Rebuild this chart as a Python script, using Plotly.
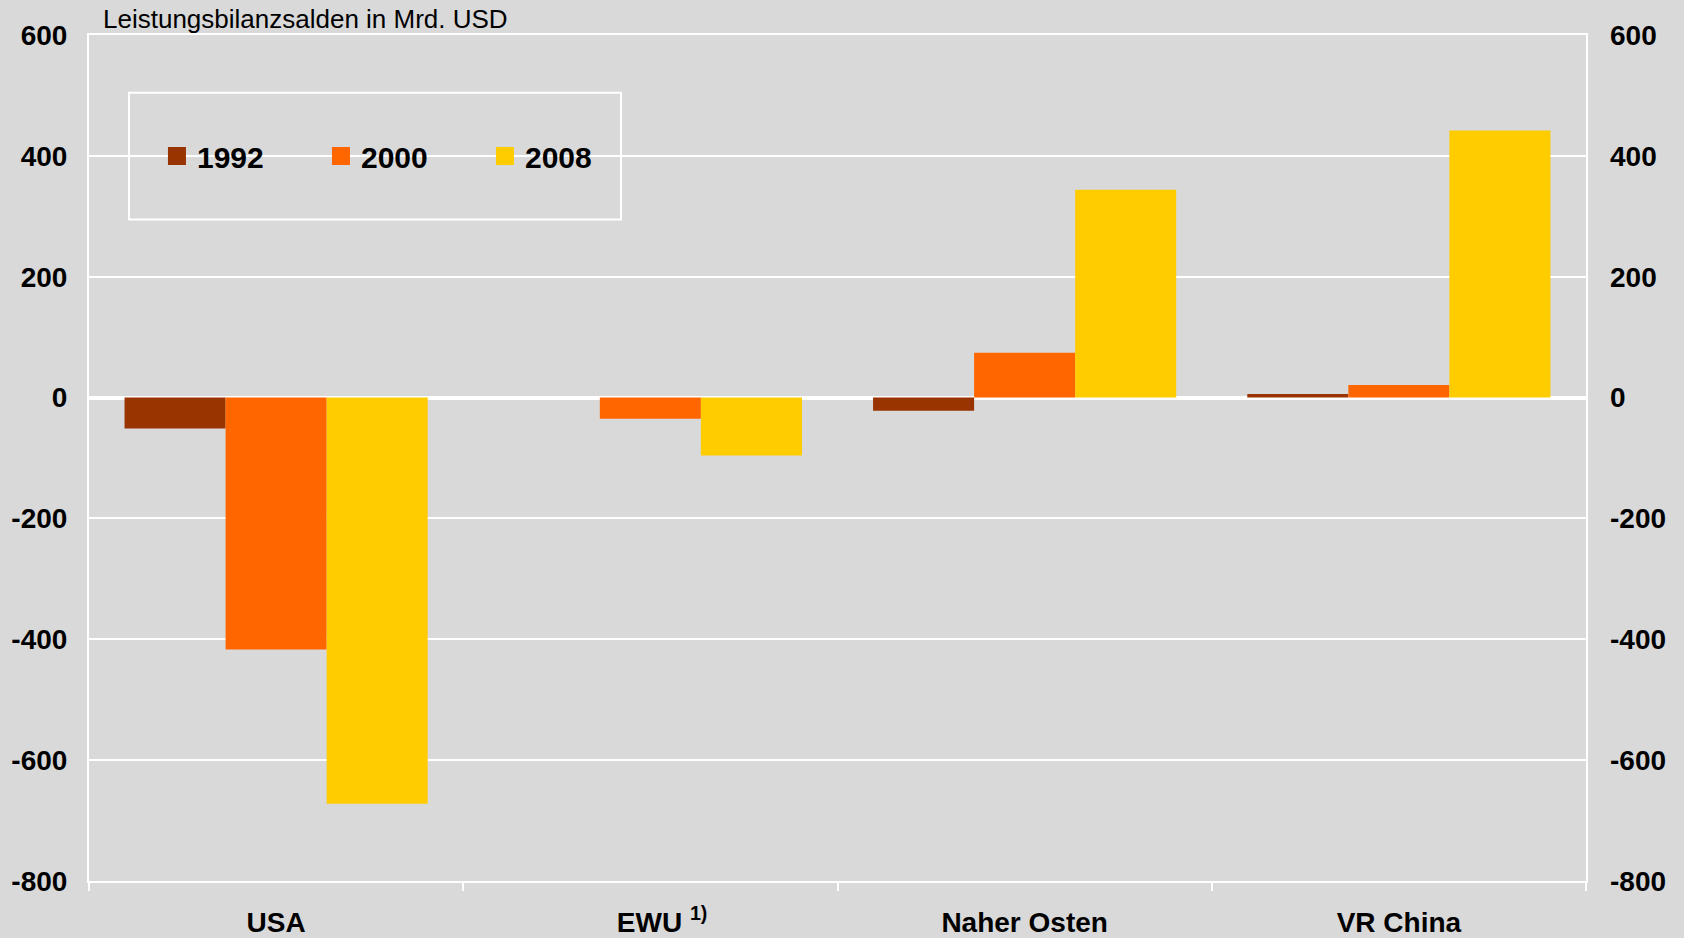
import plotly.graph_objects as go

# Data
categories = ["USA", "&nbsp;&nbsp;&nbsp;EWU <sup>1)</sup>", "Naher Osten", "VR China"]
years = ["1992", "2000", "2008"]
values_1992 = [-51, None, -22, 6]
values_2000 = [-417, -35, 74, 21]
values_2008 = [-672, -96, 344, 442]
tick_vals = [-800, -600, -400, -200, 0, 200, 400, 600]
tick_text = ["-800", "-600", "-400", "-200", "0", "200", "400", "600"]

COLORS = {"1992": "#993300", "2000": "#FF6600", "2008": "#FFCC00"}
BG = "#D9D9D9"
FONT = "Liberation Sans, Arial, sans-serif"

fig = go.Figure()
for year, vals in zip(years, [values_1992, values_2000, values_2008]):
    fig.add_trace(go.Bar(
        x=categories, y=vals, name=year, showlegend=False,
        marker=dict(color=COLORS[year], line=dict(width=0)),
    ))

# legend entries with bigger square swatches
for year in years:
    fig.add_trace(go.Scatter(
        x=[None], y=[None], mode="markers", name=year,
        marker=dict(symbol="square", size=16, color=COLORS[year],
                    line=dict(width=2, color=COLORS[year])),
    ))

# invisible trace so the right axis gets drawn
fig.add_trace(go.Scatter(x=categories, y=[None] * 4, yaxis="y2", showlegend=False, hoverinfo="skip"))

axis_common = dict(
    range=[-800, 600], tickvals=tick_vals, ticktext=tick_text, automargin=False,
    tickfont=dict(size=28, color="black", family=FONT, weight="bold"),
)

fig.update_layout(
    width=1684, height=938,
    paper_bgcolor=BG, plot_bgcolor=BG,
    margin=dict(l=89, r=98, t=35, b=57),
    barmode="group", bargap=0.19, bargroupgap=0,
    font=dict(family=FONT, color="black"),
    xaxis=dict(
        type="category", tickson="boundaries", ticks="outside", ticklen=8,
        tickcolor="white", tickwidth=2, automargin=False,
        showline=True, linecolor="white", linewidth=2, mirror=True,
        tickfont=dict(size=28, color="black", family=FONT, weight="bold"),
        ticklabelstandoff=15,
    ),
    yaxis=dict(
        **axis_common, showgrid=True, gridcolor="white", gridwidth=2,
        zeroline=True, zerolinecolor="white", zerolinewidth=4,
        showline=True, linecolor="white", linewidth=2, mirror=True,
        ticks="", ticklabelstandoff=14,
    ),
    yaxis2=dict(
        **axis_common, overlaying="y", side="right", ticks="",
        showgrid=False, zeroline=False, showline=False, ticklabelstandoff=23,
    ),
    showlegend=True,
    legend=dict(
        orientation="h", x=0.0454, xanchor="left", y=0.857, yanchor="middle",
        bgcolor="rgba(0,0,0,0)", borderwidth=0,
        font=dict(size=30, color="black", family=FONT, weight="bold"),
        entrywidth=119, entrywidthmode="pixels", itemsizing="trace",
    ),
    shapes=[dict(
        type="rect", xref="paper", yref="paper",
        x0=0.0267, x1=0.3554, y0=0.782, y1=0.9317,
        line=dict(color="white", width=2), fillcolor="rgba(0,0,0,0)",
    )],
    annotations=[dict(
        text="Leistungsbilanzsalden in Mrd. USD", xref="paper", yref="paper",
        x=0.008, y=1, xanchor="left", yanchor="bottom", yshift=-1, showarrow=False,
        font=dict(size=26, color="black", family=FONT),
    )],
)

fig.write_html("out.html", config={"displayModeBar": False},
               post_script="document.body.style.margin='0';")
